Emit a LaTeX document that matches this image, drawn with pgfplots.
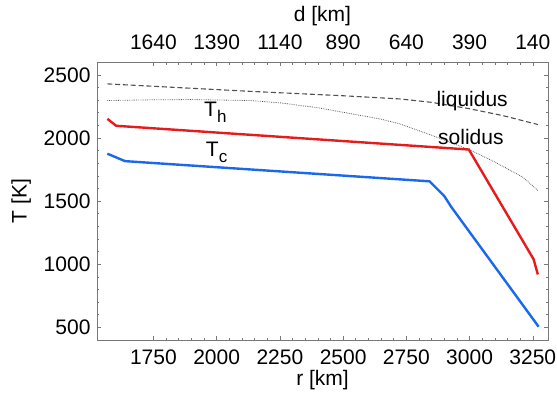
\documentclass[border=0pt]{standalone}
\usepackage{pgfplots}
\pgfplotsset{compat=1.18}
\usepackage{fontspec}
\setmainfont{Liberation Sans}
\definecolor{thred}{RGB}{230,28,28}
\definecolor{tcblue}{RGB}{26,104,235}
\definecolor{framegray}{RGB}{120,120,120}
\definecolor{curvegray}{RGB}{80,80,80}
\begin{document}
\begin{tikzpicture}
\path[use as bounding box] (-97pt,-57pt) rectangle (460pt,340pt);
\begin{axis}[
  at={(0pt,0pt)}, anchor=south west,
  scale only axis, width=451pt, height=277.7pt,
  xmin=1527, xmax=3310, ymin=400, ymax=2600,
  xtick={1750,2000,...,3250}, minor x tick num=4,
  ytick={500,1000,...,2500}, minor y tick num=4,
  tick align=inside, xtick pos=both, ytick pos=both,
  xticklabel pos=lower, yticklabel pos=left,
  major tick length=4pt, minor tick length=2.5pt,
  axis line style={framegray, line width=0.8pt},
  tick style={framegray, line width=0.6pt},
  ticklabel style={font=\fontsize{21}{22}\selectfont},
  xticklabel style={yshift=-6pt},
  yticklabel style={xshift=-3pt},
  /pgf/number format/assume math mode=true,
  /pgf/number format/1000 sep={},
  xlabel={r [km]}, ylabel={T [K]},
  label style={font=\fontsize{21}{22}\selectfont},
  xlabel style={at={(axis description cs:0.5,-0.144)}, anchor=center},
  ylabel style={at={(axis description cs:-0.168,0.5)}, anchor=center},
  clip=false,
]
\addplot[curvegray, line width=1.1pt, dash pattern=on 5pt off 2.8pt] coordinates {
 (1568,2429) (1750,2410) (2132,2370) (2500,2335) (2723,2310) (2849,2283) (3000,2232) (3131,2178) (3270,2107)};
\addplot[curvegray, line width=0.8pt, dash pattern=on 0.7pt off 1.1pt] coordinates {
 (1568,2297) (1750,2303) (1900,2305) (2132,2297) (2250,2279) (2400,2240) (2644,2152) (2723,2113) (2850,2022) (2996,1910) (3100,1810) (3210,1690) (3270,1585)};
\addplot[thred, line width=2.4pt] coordinates {
 (1568,2152) (1603,2097) (2997,1909) (3253,1040) (3270,919)};
\addplot[tcblue, line width=2.4pt] coordinates {
 (1568,1876) (1638,1817) (2842,1657) (2900,1540) (2928,1453) (3273,505)};
\node[font=\fontsize{21}{21}\selectfont] at (axis cs:1995,2205) {T\raisebox{-6.5pt}{\fontsize{17}{17}\selectfont h}};
\node[font=\fontsize{21}{21}\selectfont] at (axis cs:2000,1885) {T\raisebox{-6.5pt}{\fontsize{17}{17}\selectfont c}};
\node[font=\fontsize{21}{21}\selectfont] at (axis cs:3010,2290) {liquidus};
\node[font=\fontsize{21}{21}\selectfont] at (axis cs:3005,2005) {solidus};
\end{axis}
\begin{axis}[
  at={(0pt,0pt)}, anchor=south west,
  scale only axis, width=451pt, height=277.7pt,
  xmin=1527, xmax=3310, ymin=400, ymax=2600,
  axis x line*=top, hide y axis,
  axis line style={draw=none},
  xtick={1750,2000,...,3250},
  xticklabels={1640,1390,1140,890,640,390,140},
  major tick length=0pt,
  ticklabel style={font=\fontsize{21}{22}\selectfont},
  xticklabel style={yshift=9pt},
  xlabel={d [km]},
  label style={font=\fontsize{21}{22}\selectfont},
  xlabel style={at={(axis description cs:0.5,1.165)}, anchor=center},
]
\addplot[draw=none] coordinates {(2000,1000)};
\end{axis}
\end{tikzpicture}
\end{document}
